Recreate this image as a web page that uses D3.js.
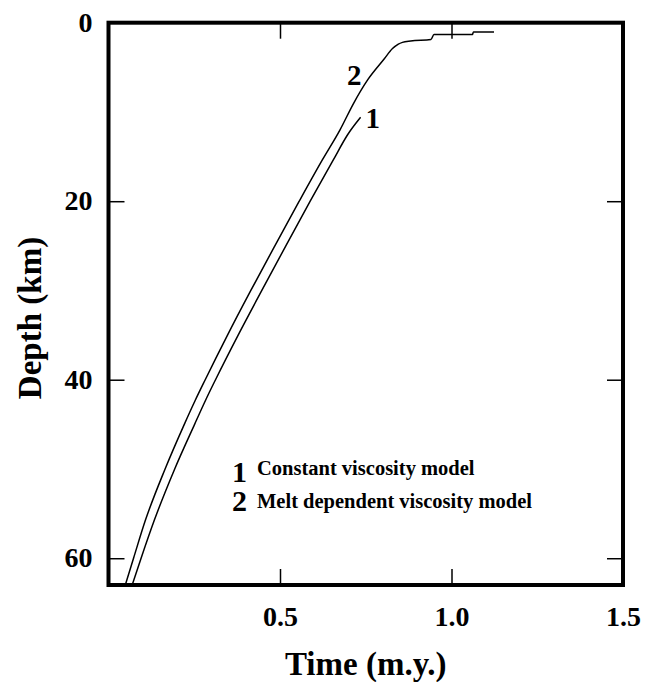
<!DOCTYPE html>
<html>
<head>
<meta charset="utf-8">
<script src="https://cdn.jsdelivr.net/npm/d3@7"></script>
<style>
  html, body { margin: 0; padding: 0; background: #fff; }
  svg text { font-family: "Liberation Serif", "Times New Roman", serif; font-weight: bold; fill: #000; }
</style>
</head>
<body>
<svg id="chart" width="654" height="682"></svg>
<script>
// Ascent path of the melt column: time (m.y.) vs depth (km)
// Model 1: constant viscosity
const timeConst  = [0.069, 0.095, 0.134, 0.193, 0.251, 0.283, 0.312, 0.378, 0.447, 0.517, 0.588, 0.655, 0.698, 0.735];
const depthConst = [63.0,  60.0,  55.7,  50.0,  45.0,  42.3,  40.0,  35.0,  30.0,  25.0,  20.0,  15.4,  12.5,  10.6];

// Model 2: melt dependent viscosity
const timeMelt  = [0.049, 0.073, 0.108, 0.165, 0.221, 0.253, 0.282, 0.347, 0.415, 0.485, 0.556, 0.623, 0.675, 0.715, 0.755, 0.803, 0.828, 0.845, 0.857, 0.881, 0.940, 0.949, 0.998, 1.061, 1.064, 1.124];
const depthMelt = [63.0,  60.0,  55.7,  50.0,  45.0,  42.3,  40.0,  35.0,  30.0,  25.0,  20.0,  15.4,  12.0,  9.0,   6.44,  4.1,   2.9,   2.4,   2.2,   2.04,  1.88,  1.32,  1.32,  1.32,  1.03,  1.03];

const xTicks = [0.5, 1.0, 1.5];
const yTicks = [0, 20, 40, 60];
const legendKeys  = ["1", "2"];
const legendNames = ["Constant viscosity model", "Melt dependent viscosity model"];

const svg = d3.select("#chart");
const plotL = 108.5, plotR = 623, plotT = 22.7, plotB = 585;

const x = d3.scaleLinear().domain([0, 1.5]).range([plotL, plotR]);
const y = d3.scaleLinear().domain([0, 63.0]).range([plotT, plotB]);

// clip curves to the frame
svg.append("defs").append("clipPath").attr("id", "plotclip")
  .append("rect").attr("x", plotL).attr("y", plotT).attr("width", plotR - plotL).attr("height", plotB - plotT);

const line = d3.line().x(d => x(d[0])).y(d => y(d[1])).curve(d3.curveMonotoneX);
const series = [
  d3.zip(timeConst, depthConst),
  d3.zip(timeMelt, depthMelt)
];
svg.append("g").attr("clip-path", "url(#plotclip)")
  .selectAll("path").data(series).join("path")
  .attr("d", line)
  .attr("fill", "none")
  .attr("stroke", "#000")
  .attr("stroke-width", 1.5);

// axes: inward ticks on all four sides
const tickLen = 16;
const gx = svg.append("g").attr("transform", `translate(0,${plotB})`)
  .call(d3.axisBottom(x).tickValues(xTicks).tickFormat(d3.format(".1f")).tickSize(-tickLen).tickPadding(21));
const gxTop = svg.append("g").attr("transform", `translate(0,${plotT})`)
  .call(d3.axisTop(x).tickValues([0.5, 1.0]).tickSize(-tickLen).tickFormat(""));
const gy = svg.append("g").attr("transform", `translate(${plotL},0)`)
  .call(d3.axisLeft(y).tickValues(yTicks).tickSize(-tickLen).tickPadding(16));
const gyRight = svg.append("g").attr("transform", `translate(${plotR},0)`)
  .call(d3.axisRight(y).tickValues([20, 40, 60]).tickSize(-tickLen).tickFormat(""));

[gx, gxTop, gy, gyRight].forEach(g => {
  g.attr("font-family", null);
  g.select(".domain").remove();
  g.selectAll(".tick line").attr("stroke", "#000").attr("stroke-width", 1.5);
  g.selectAll(".tick text").attr("font-size", 28).attr("fill", "#000");
});
gy.selectAll(".tick text").attr("dy", "0.3em");

// frame
svg.append("rect")
  .attr("x", plotL).attr("y", plotT)
  .attr("width", plotR - plotL).attr("height", plotB - plotT)
  .attr("fill", "none").attr("stroke", "#000").attr("stroke-width", 4);

// axis titles
svg.append("text")
  .attr("x", (plotL + plotR) / 2).attr("y", 675)
  .attr("text-anchor", "middle").attr("font-size", 33)
  .text("Time (m.y.)");
svg.append("text")
  .attr("transform", "translate(41,318) rotate(-90)")
  .attr("text-anchor", "middle").attr("font-size", 33)
  .text("Depth (km)");

// curve labels at the upper ends
svg.append("text").attr("x", x(timeConst[timeConst.length - 1]) + 5).attr("y", 128)
  .attr("font-size", 29).text("1");
svg.append("text").attr("x", 347).attr("y", 85)
  .attr("font-size", 29).text("2");

// legend
const leg = svg.append("g");
const legBase = [482, 511];
const nameBase = [475, 508];
legendKeys.forEach((k, i) => {
  leg.append("text").attr("x", 232).attr("y", legBase[i]).attr("font-size", 30).text(k);
  leg.append("text").attr("x", 257).attr("y", nameBase[i]).attr("font-size", 20.5).text(legendNames[i]);
});
</script>
</body>
</html>
